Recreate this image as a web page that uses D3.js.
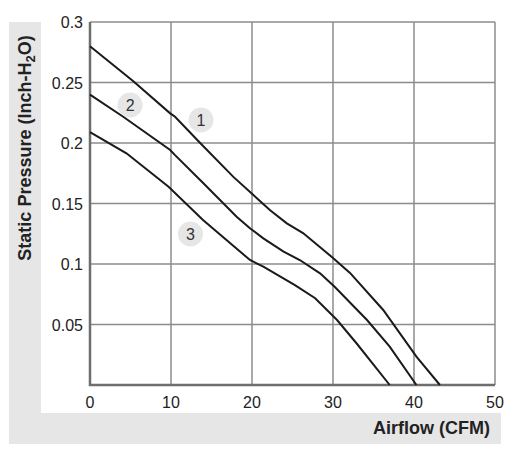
<!DOCTYPE html>
<html>
<head>
<meta charset="utf-8">
<script src="https://cdn.jsdelivr.net/npm/d3@7"></script>
<style>
  body { margin: 0; background: #fff; }
  svg { display: block; font-family: "Liberation Sans", Arial, sans-serif; }
</style>
</head>
<body>
<svg id="chart" width="513" height="462"></svg>
<script>
// curve data: [airflow CFM, static pressure inch-H2O]
const curve1 = [[0,0.280],[5.35,0.251],[9.9,0.2245],[10.5,0.2217],[13.6,0.200],[17.7,0.172],[22.2,0.1446],
  [24.3,0.1336],[26.3,0.1256],[30.0,0.105],[32.1,0.0926],[36.2,0.062],[40.3,0.0234],[43.2,0]];
const curve2 = [[0,0.240],[4.1,0.2217],[9.9,0.1942],[10.5,0.190],[14.0,0.1667],[18.1,0.1391],[19.75,0.1295],
  [21.4,0.1212],[23.9,0.1102],[25.9,0.1033],[28.4,0.0923],[30.2,0.0812],[34.2,0.0537],[37.0,0.0317],[40.3,0]];
const curve3 = [[0,0.209],[4.5,0.1915],[9.7,0.1639],[13.95,0.1364],[19.75,0.1033],[21.4,0.0978],[25.3,0.0826],
  [27.8,0.0717],[30.5,0.0537],[32.9,0.0345],[37.0,0]];
const curves = [curve1, curve2, curve3];

const badgeLabels = ["1", "2", "3"];
const badgePos = [[13.7, 0.219], [4.95, 0.2314], [12.4, 0.1248]];

const xTicks = [0, 10, 20, 30, 40, 50];
const yTicks = [0.05, 0.1, 0.15, 0.2, 0.25, 0.3];

const svg = d3.select("#chart");

// gray frame behind the labels
svg.append("rect").attr("x", 9).attr("y", 22).attr("width", 492).attr("height", 422).attr("fill", "#e6e6e6");
svg.append("rect").attr("x", 41).attr("y", 0).attr("width", 472).attr("height", 413).attr("fill", "#fff");

const x = d3.scaleLinear().domain([0, 50]).range([90, 495]);
const y = d3.scaleLinear().domain([0, 0.3]).range([385, 22]);

// grid
const grid = svg.append("g").attr("stroke", "#8c8c8c").attr("stroke-width", 1.5);
grid.selectAll("line.v").data(xTicks.slice(1)).enter().append("line")
  .attr("x1", d => x(d)).attr("x2", d => x(d)).attr("y1", y(0)).attr("y2", y(0.3));
grid.selectAll("line.h").data(yTicks).enter().append("line")
  .attr("x1", x(0)).attr("x2", x(50)).attr("y1", d => y(d)).attr("y2", d => y(d));

// axis lines
svg.append("path")
  .attr("d", `M${x(0)},${y(0.3)}V${y(0)}H${x(50)}`)
  .attr("fill", "none").attr("stroke", "#6e6e6e").attr("stroke-width", 2.5);

// tick labels
svg.append("g").selectAll("text").data(xTicks).enter().append("text")
  .attr("x", d => x(d)).attr("y", 408)
  .attr("text-anchor", "middle").attr("font-size", 16).attr("fill", "#222")
  .text(d => d);
svg.append("g").selectAll("text").data(yTicks).enter().append("text")
  .attr("x", 83).attr("y", d => y(d) + 6)
  .attr("text-anchor", "end").attr("font-size", 16).attr("fill", "#222")
  .text(d => d);

// curves
const line = d3.line().x(d => x(d[0])).y(d => y(d[1]));
svg.append("g").selectAll("path").data(curves).enter().append("path")
  .attr("d", line).attr("fill", "none").attr("stroke", "#1a1a1a").attr("stroke-width", 2);

// numbered badges
const badge = svg.append("g").selectAll("g").data(badgePos).enter().append("g")
  .attr("transform", d => `translate(${x(d[0])},${y(d[1])})`);
badge.append("circle").attr("r", 12.5).attr("fill", "#e6e6e6");
badge.append("text").attr("y", 6).attr("text-anchor", "middle")
  .attr("font-size", 16).attr("fill", "#333").text((d, i) => badgeLabels[i]);

// axis titles
const yt = svg.append("text")
  .attr("transform", "translate(31,148) rotate(-90)")
  .attr("text-anchor", "middle").attr("font-size", 18).attr("font-weight", "bold").attr("fill", "#222");
yt.append("tspan").text("Static Pressure (Inch-H");
yt.append("tspan").attr("font-size", 13).attr("dy", 4).text("2");
yt.append("tspan").attr("dy", -4).text("O)");

svg.append("text").attr("x", 490).attr("y", 434)
  .attr("text-anchor", "end").attr("font-size", 18).attr("font-weight", "bold").attr("fill", "#222")
  .text("Airflow (CFM)");
</script>
</body>
</html>
